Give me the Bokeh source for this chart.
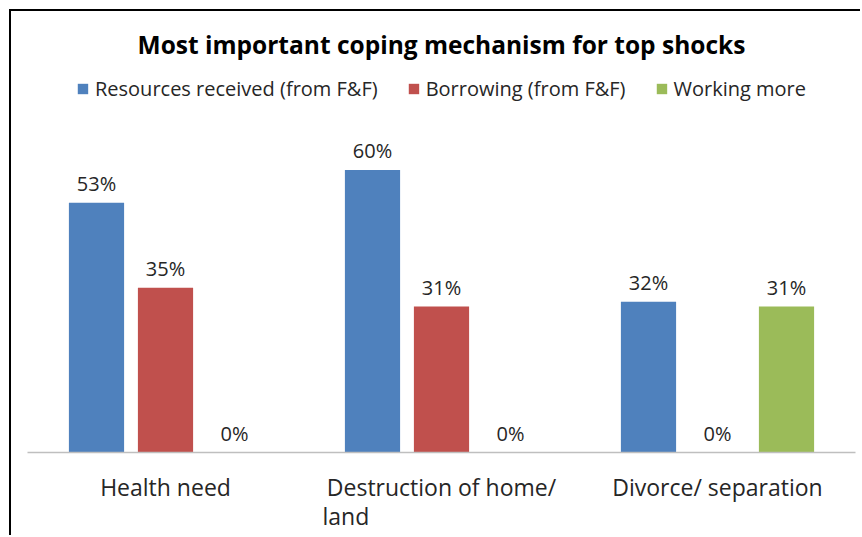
from bokeh.plotting import figure
from bokeh.models import Range1d, FixedTicker, Legend, LegendItem, ColumnDataSource
from bokeh.core.properties import value
from bokeh.embed import file_html
from bokeh.resources import INLINE

categories = ["Health need", "Destruction of home/\nland", "Divorce/ separation"]
series_names = ["Resources received (from F&F)", "Borrowing (from F&F)", "Working more"]
resources = [53, 60, 32]
borrowing = [35, 31, 0]
working = [0, 0, 31]
colors = ["#4F81BD", "#C0504D", "#9BBB59"]

FONT = "Open Sans"

p = figure(width=851, height=526, margin=(9, 0, 0, 9),
           output_backend="svg", toolbar_location=None,
           x_range=Range1d(0, 3), y_range=Range1d(0, 80.04),
           min_border_left=16, min_border_right=7,
           min_border_top=64, min_border_bottom=85,
           title="Most important coping mechanism for top shocks")
p.styles = {"border-top": "2px solid #000", "border-left": "2px solid #000"}
p.title.align = "center"
p.title.vertical_align = "middle"
p.title.text_font = FONT
p.title.text_font_size = "24.5px"
p.title.text_font_style = "bold"
p.title.text_color = "#000000"
p.title.standoff = 28

p.outline_line_color = None
p.xgrid.visible = False
p.ygrid.visible = False
p.yaxis.visible = False

offsets = [-0.25, 0.0, 0.25]
renderers = []
for s, (vals, col, off) in enumerate(zip([resources, borrowing, working], colors, offsets)):
    xs = [i + 0.5 + off for i in range(len(categories))]
    src = ColumnDataSource(dict(x=xs, top=vals, lab=[f"{v}%" for v in vals]))
    r = p.vbar(x="x", top="top", width=0.2, bottom=0, source=src,
               fill_color=col, line_color=None)
    renderers.append(r)
    p.text(x="x", y="top", text="lab", source=src, text_align="center",
           text_baseline="alphabetic", y_offset=-19,
           text_font=value(FONT), text_font_size="20px", text_color="#262626")

legend = Legend(items=[LegendItem(label=n, renderers=[r]) for n, r in zip(series_names, renderers)],
                orientation="horizontal", location="top_center",
                glyph_width=13, glyph_height=13, label_standoff=6, spacing=29,
                padding=0, margin=0, border_line_color=None, background_fill_alpha=0,
                label_text_font=FONT, label_text_font_size="20px", label_text_color="#262626",
                label_height=20)
p.add_layout(legend, "center")

ax = p.xaxis[0]
ax.ticker = FixedTicker(ticks=[0.5, 1.5, 2.5])
ax.major_label_overrides = {0.5: categories[0],
                            1.5: categories[1].replace("\nland", "\nland" + "\u00a0" * 32),
                            2.5: categories[2]}
ax.axis_line_color = "#BFBFBF"
ax.axis_line_width = 1.5
ax.major_tick_line_color = None
ax.minor_tick_line_color = None
ax.major_label_text_font = FONT
ax.major_label_text_font_size = "23px"
ax.major_label_text_color = "#262626"
ax.major_label_text_line_height = 0.93
ax.major_label_standoff = 12

open("out.html", "w").write(file_html(p, INLINE))
